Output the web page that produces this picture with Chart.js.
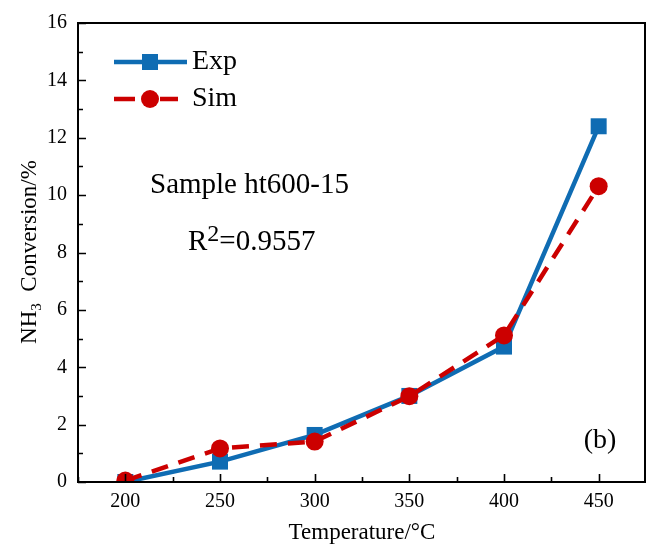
<!DOCTYPE html>
<html>
<head>
<meta charset="utf-8">
<script src="https://cdn.jsdelivr.net/npm/chart.js@4.4.0/dist/chart.umd.min.js"></script>
<style>
  html, body { margin: 0; padding: 0; background: #fff; }
  #wrap { width: 646px; height: 548px; }
</style>
</head>
<body>
<div id="wrap"><canvas id="chart" width="646" height="548"></canvas></div>
<script>
const temperatures = [200, 250, 300, 350, 400, 450];
const expValues = [0.0, 0.71, 1.64, 3.0, 4.72, 12.4];
const simValues = [0.05, 1.17, 1.41, 2.99, 5.11, 10.31];
const xTicks = [200, 250, 300, 350, 400, 450];
const yTicks = [0, 2, 4, 6, 8, 10, 12, 14, 16];

const BLUE = "#0f6cb3";
const RED = "#cc0000";
const SERIF = "'Liberation Serif', 'Times New Roman', serif";

function pts(values) {
  return temperatures.map((t, i) => ({ x: t, y: values[i] }));
}

// box, inward ticks, legend, labels
const extras = {
  id: "extras",
  afterDraw(chart) {
    const ctx = chart.ctx;
    const a = chart.chartArea;
    const xs = chart.scales.x;
    const ys = chart.scales.y;
    ctx.save();

    ctx.strokeStyle = "#000";
    ctx.lineWidth = 2;
    ctx.strokeRect(a.left, a.top, a.right - 1 - a.left, a.bottom - a.top);

    ctx.lineWidth = 1.6;
    ctx.beginPath();
    for (let v = 175; v <= 475; v += 25) {
      const px = Math.round(xs.getPixelForValue(v)) + 0.5;
      const len = (v % 50 === 0) ? 8 : 5;
      ctx.moveTo(px, a.bottom);
      ctx.lineTo(px, a.bottom - len);
    }
    for (let v = 0; v <= 16; v += 1) {
      const py = Math.round(ys.getPixelForValue(v)) + 0.5;
      const len = (v % 2 === 0) ? 8 : 5;
      ctx.moveTo(a.left, py);
      ctx.lineTo(a.left + len, py);
    }
    ctx.stroke();

    // legend
    ctx.lineWidth = 4.5;
    ctx.strokeStyle = BLUE;
    ctx.beginPath();
    ctx.moveTo(114, 62);
    ctx.lineTo(187, 62);
    ctx.stroke();
    ctx.fillStyle = BLUE;
    ctx.fillRect(142, 54, 16, 16);

    ctx.strokeStyle = RED;
    ctx.beginPath();
    ctx.moveTo(114, 99);
    ctx.lineTo(135, 99);
    ctx.moveTo(160, 99);
    ctx.lineTo(178, 99);
    ctx.stroke();
    ctx.fillStyle = RED;
    ctx.beginPath();
    ctx.arc(150, 99, 9, 0, Math.PI * 2);
    ctx.fill();

    ctx.fillStyle = "#000";
    ctx.textBaseline = "middle";
    ctx.textAlign = "left";
    ctx.font = "28px " + SERIF;
    ctx.fillText("Exp", 192, 62);
    ctx.fillText("Sim", 192, 99);

    // sample label
    ctx.textBaseline = "alphabetic";
    ctx.font = "29px " + SERIF;
    ctx.fillText("Sample ht600-15", 150, 193);
    ctx.fillText("R", 188, 250);
    let w = ctx.measureText("R").width;
    ctx.font = "24px " + SERIF;
    ctx.fillText("2", 188 + w, 241);
    w += ctx.measureText("2").width;
    ctx.font = "29px " + SERIF;
    ctx.fillText("=0.9557", 188 + w, 250);

    ctx.textBaseline = "middle";
    ctx.font = "28px " + SERIF;
    ctx.textAlign = "center";
    ctx.fillText("(b)", 600, 441);

    // axis titles
    ctx.font = "23px " + SERIF;
    ctx.fillText("Temperature/\u00B0C", 362, 533);

    ctx.translate(30, 252);
    ctx.rotate(-Math.PI / 2);
    const p1 = "NH";
    const p3 = "  Conversion/%";
    ctx.font = "23px " + SERIF;
    const w1 = ctx.measureText(p1).width;
    const w3 = ctx.measureText(p3).width;
    ctx.font = "15px " + SERIF;
    const w2 = ctx.measureText("3").width;
    let x0 = -(w1 + w2 + w3) / 2;
    ctx.textAlign = "left";
    ctx.font = "23px " + SERIF;
    ctx.fillText(p1, x0, 0);
    ctx.font = "15px " + SERIF;
    ctx.fillText("3", x0 + w1, 7);
    ctx.font = "23px " + SERIF;
    ctx.fillText(p3, x0 + w1 + w2, 0);

    ctx.restore();
  }
};

const ctx = document.getElementById("chart").getContext("2d");
const chart = new Chart(ctx, {
  type: "line",
  data: {
    datasets: [
      {
        label: "Exp",
        data: pts(expValues),
        borderColor: BLUE,
        backgroundColor: BLUE,
        borderWidth: 4.5,
        pointStyle: "rect",
        pointRadius: 11.3,
        pointHoverRadius: 11.3,
        pointBorderWidth: 0,
        order: 2
      },
      {
        label: "Sim",
        data: pts(simValues),
        borderColor: RED,
        backgroundColor: RED,
        borderWidth: 4.5,
        borderDash: [17, 11],
        pointStyle: "circle",
        pointRadius: 9,
        pointHoverRadius: 9,
        pointBorderWidth: 0,
        order: 1
      }
    ]
  },
  options: {
    responsive: false,
    animation: false,
    devicePixelRatio: 1,
    layout: { autoPadding: false, padding: { top: 23, right: 0, left: 0, bottom: 0 } },
    plugins: {
      legend: { display: false },
      tooltip: { enabled: false }
    },
    scales: {
      x: {
        type: "linear",
        min: 175,
        max: 475,
        afterBuildTicks: (s) => { s.ticks = xTicks.map(v => ({ value: v })); },
        afterFit: (s) => { s.height = 66; s.paddingLeft = 0; s.paddingRight = 0; },
        grid: { display: false, drawTicks: false },
        border: { display: false },
        ticks: {
          color: "#000",
          padding: 8,
          font: { family: SERIF, size: 20 }
        }
      },
      y: {
        min: 0,
        max: 16,
        afterBuildTicks: (s) => { s.ticks = yTicks.map(v => ({ value: v })); },
        afterFit: (s) => { s.width = 78; s.paddingTop = 0; s.paddingBottom = 0; },
        grid: { display: false, drawTicks: false },
        border: { display: false },
        ticks: {
          color: "#000",
          padding: 11,
          font: { family: SERIF, size: 20 }
        }
      }
    }
  },
  plugins: [extras]
});
</script>
</body>
</html>
